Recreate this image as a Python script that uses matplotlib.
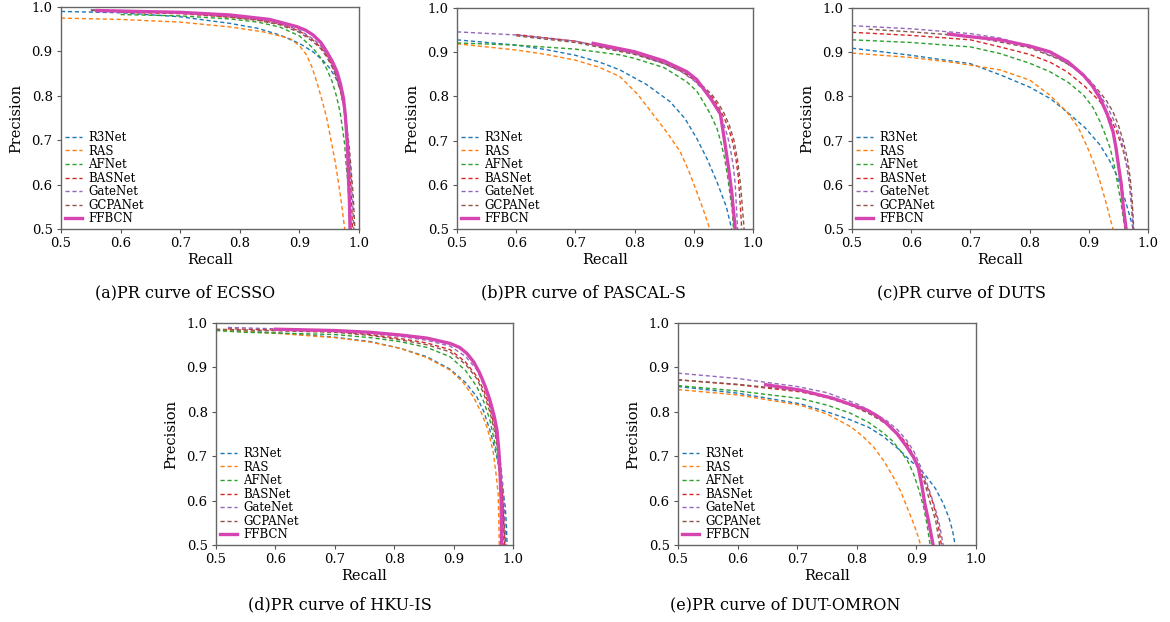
import matplotlib
matplotlib.use('Agg')
import matplotlib.pyplot as plt
from matplotlib.ticker import FormatStrFormatter

models = ['R3Net', 'RAS', 'AFNet', 'BASNet', 'GateNet', 'GCPANet', 'FFBCN']
colors = ['#1f77b4', '#ff7f0e', '#2ca02c', '#d62728', '#9467bd', '#8c564b', '#d544b0']

# (recall, precision)
ecssd = {
    'R3Net':   ([0.5, 0.6, 0.7, 0.784, 0.83, 0.867, 0.9, 0.923, 0.94, 0.951, 0.961, 0.968, 0.974, 0.978, 0.981, 0.983, 0.985, 0.987],
                [0.990, 0.987, 0.978, 0.963, 0.952, 0.937, 0.918, 0.899, 0.879, 0.862, 0.84, 0.817, 0.78, 0.74, 0.68, 0.62, 0.56, 0.5]),
    'RAS':     ([0.5, 0.6, 0.7, 0.784, 0.84, 0.884, 0.9, 0.912, 0.921, 0.929, 0.938, 0.946, 0.953, 0.960, 0.966, 0.971, 0.976],
                [0.975, 0.972, 0.966, 0.955, 0.944, 0.929, 0.913, 0.892, 0.865, 0.832, 0.79, 0.749, 0.70, 0.652, 0.60, 0.554, 0.5]),
    'AFNet':   ([0.6, 0.7, 0.784, 0.83, 0.867, 0.9, 0.923, 0.936, 0.946, 0.955, 0.962, 0.968, 0.972, 0.976, 0.978, 0.981, 0.983, 0.986],
                [0.983, 0.98, 0.973, 0.966, 0.955, 0.935, 0.907, 0.885, 0.86, 0.832, 0.8, 0.765, 0.73, 0.69, 0.65, 0.61, 0.57, 0.5]),
    'BASNet':  ([0.6, 0.7, 0.784, 0.83, 0.867, 0.9, 0.923, 0.936, 0.946, 0.955, 0.963, 0.97, 0.975, 0.979, 0.982, 0.984, 0.986, 0.988, 0.989],
                [0.988, 0.985, 0.977, 0.971, 0.962, 0.946, 0.925, 0.909, 0.89, 0.867, 0.84, 0.805, 0.77, 0.725, 0.68, 0.64, 0.6, 0.55, 0.5]),
    'GateNet': ([0.55, 0.7, 0.784, 0.83, 0.867, 0.9, 0.923, 0.936, 0.946, 0.955, 0.963, 0.97, 0.975, 0.979, 0.983, 0.986, 0.988, 0.99, 0.991],
                [0.994, 0.988, 0.979, 0.973, 0.963, 0.948, 0.928, 0.912, 0.893, 0.871, 0.845, 0.81, 0.775, 0.73, 0.68, 0.635, 0.59, 0.54, 0.5]),
    'GCPANet': ([0.55, 0.7, 0.784, 0.83, 0.867, 0.9, 0.923, 0.936, 0.946, 0.955, 0.963, 0.97, 0.976, 0.98, 0.984, 0.987, 0.99, 0.992, 0.993],
                [0.992, 0.987, 0.977, 0.97, 0.96, 0.943, 0.922, 0.906, 0.887, 0.865, 0.84, 0.807, 0.77, 0.725, 0.68, 0.63, 0.58, 0.53, 0.5]),
    'FFBCN':   ([0.56, 0.7, 0.784, 0.85, 0.895, 0.91, 0.923, 0.936, 0.946, 0.955, 0.963, 0.969, 0.974, 0.977, 0.979, 0.981, 0.982, 0.984, 0.985],
                [0.992, 0.988, 0.982, 0.972, 0.956, 0.948, 0.937, 0.92, 0.899, 0.878, 0.854, 0.826, 0.794, 0.757, 0.719, 0.674, 0.629, 0.56, 0.5]),
}

pascal = {
    'R3Net':   ([0.5, 0.6, 0.65, 0.7, 0.74, 0.775, 0.82, 0.86, 0.885, 0.905, 0.923, 0.939, 0.948, 0.955, 0.964],
                [0.928, 0.916, 0.906, 0.893, 0.878, 0.86, 0.827, 0.788, 0.75, 0.705, 0.657, 0.607, 0.575, 0.55, 0.5]),
    'RAS':     ([0.5, 0.6, 0.65, 0.7, 0.74, 0.775, 0.805, 0.832, 0.856, 0.877, 0.892, 0.905, 0.917, 0.927],
                [0.919, 0.905, 0.895, 0.882, 0.866, 0.845, 0.805, 0.758, 0.716, 0.675, 0.63, 0.584, 0.54, 0.5]),
    'AFNet':   ([0.5, 0.6, 0.7, 0.775, 0.8, 0.85, 0.888, 0.905, 0.916, 0.928, 0.939, 0.946, 0.952, 0.957, 0.961, 0.965, 0.967],
                [0.921, 0.916, 0.907, 0.894, 0.886, 0.865, 0.833, 0.812, 0.788, 0.76, 0.728, 0.695, 0.66, 0.62, 0.58, 0.54, 0.5]),
    'BASNet':  ([0.6, 0.7, 0.8, 0.85, 0.88, 0.9, 0.918, 0.93, 0.94, 0.95, 0.958, 0.965, 0.971, 0.975, 0.978, 0.981],
                [0.94, 0.925, 0.898, 0.876, 0.856, 0.838, 0.816, 0.8, 0.78, 0.755, 0.73, 0.7, 0.66, 0.62, 0.565, 0.5]),
    'GateNet': ([0.5, 0.6, 0.7, 0.8, 0.85, 0.88, 0.9, 0.918, 0.93, 0.941, 0.95, 0.957, 0.962, 0.967, 0.97, 0.972, 0.974],
                [0.946, 0.939, 0.925, 0.897, 0.874, 0.855, 0.836, 0.812, 0.795, 0.77, 0.74, 0.71, 0.68, 0.64, 0.6, 0.55, 0.5]),
    'GCPANet': ([0.6, 0.7, 0.8, 0.85, 0.88, 0.9, 0.918, 0.93, 0.94, 0.95, 0.96, 0.968, 0.974, 0.979, 0.982, 0.985],
                [0.937, 0.922, 0.895, 0.874, 0.857, 0.84, 0.82, 0.805, 0.787, 0.765, 0.735, 0.7, 0.655, 0.6, 0.55, 0.5]),
    'FFBCN':   ([0.73, 0.8, 0.85, 0.888, 0.905, 0.916, 0.93, 0.945, 0.953, 0.959, 0.964, 0.97],
                [0.92, 0.901, 0.88, 0.856, 0.838, 0.818, 0.792, 0.76, 0.69, 0.635, 0.584, 0.5]),
}

duts = {
    'R3Net':   ([0.5, 0.6, 0.7, 0.75, 0.8, 0.835, 0.863, 0.893, 0.919, 0.935, 0.947, 0.957, 0.964, 0.97, 0.975],
                [0.909, 0.893, 0.874, 0.849, 0.821, 0.795, 0.765, 0.73, 0.69, 0.655, 0.622, 0.585, 0.554, 0.525, 0.5]),
    'RAS':     ([0.5, 0.6, 0.67, 0.75, 0.8, 0.834, 0.863, 0.882, 0.896, 0.909, 0.919, 0.928, 0.936, 0.941],
                [0.898, 0.888, 0.877, 0.86, 0.837, 0.803, 0.765, 0.73, 0.69, 0.648, 0.607, 0.565, 0.524, 0.5]),
    'AFNet':   ([0.5, 0.6, 0.7, 0.75, 0.8, 0.834, 0.865, 0.891, 0.907, 0.919, 0.928, 0.936, 0.942, 0.947, 0.951, 0.955, 0.961],
                [0.928, 0.922, 0.912, 0.897, 0.875, 0.856, 0.832, 0.803, 0.775, 0.743, 0.713, 0.683, 0.65, 0.615, 0.585, 0.554, 0.5]),
    'BASNet':  ([0.5, 0.6, 0.7, 0.75, 0.8, 0.835, 0.863, 0.893, 0.919, 0.935, 0.947, 0.957, 0.964, 0.969, 0.972, 0.975],
                [0.945, 0.938, 0.928, 0.912, 0.895, 0.877, 0.856, 0.823, 0.788, 0.755, 0.72, 0.683, 0.645, 0.6, 0.56, 0.5]),
    'GateNet': ([0.5, 0.6, 0.7, 0.75, 0.8, 0.85, 0.875, 0.9, 0.917, 0.93, 0.941, 0.95, 0.957, 0.963, 0.968, 0.971, 0.975],
                [0.96, 0.953, 0.942, 0.932, 0.913, 0.885, 0.864, 0.835, 0.806, 0.78, 0.75, 0.72, 0.69, 0.65, 0.61, 0.57, 0.5]),
    'GCPANet': ([0.528, 0.6, 0.7, 0.8, 0.85, 0.875, 0.9, 0.917, 0.93, 0.941, 0.95, 0.958, 0.965, 0.97, 0.973, 0.976],
                [0.952, 0.946, 0.936, 0.91, 0.884, 0.865, 0.838, 0.812, 0.79, 0.765, 0.735, 0.7, 0.66, 0.615, 0.57, 0.5]),
    'FFBCN':   ([0.663, 0.7, 0.75, 0.8, 0.834, 0.865, 0.891, 0.906, 0.919, 0.931, 0.941, 0.946, 0.95, 0.955, 0.958, 0.963],
                [0.941, 0.935, 0.928, 0.914, 0.901, 0.878, 0.848, 0.824, 0.796, 0.76, 0.72, 0.683, 0.645, 0.6, 0.554, 0.5]),
}

hkuis = {
    'R3Net':   ([0.5, 0.6, 0.7, 0.76, 0.81, 0.855, 0.894, 0.92, 0.939, 0.951, 0.961, 0.969, 0.975, 0.981, 0.987, 0.989, 0.99],
                [0.985, 0.978, 0.968, 0.958, 0.943, 0.924, 0.896, 0.866, 0.834, 0.8, 0.759, 0.72, 0.684, 0.64, 0.586, 0.54, 0.5]),
    'RAS':     ([0.5, 0.6, 0.7, 0.76, 0.81, 0.855, 0.894, 0.915, 0.933, 0.946, 0.956, 0.962, 0.967, 0.971, 0.975, 0.976, 0.977],
                [0.984, 0.977, 0.967, 0.957, 0.943, 0.922, 0.894, 0.868, 0.834, 0.8, 0.766, 0.737, 0.707, 0.665, 0.616, 0.56, 0.5]),
    'AFNet':   ([0.5, 0.55, 0.7, 0.76, 0.81, 0.855, 0.894, 0.92, 0.939, 0.951, 0.961, 0.967, 0.973, 0.977, 0.981, 0.983, 0.984],
                [0.983, 0.979, 0.974, 0.967, 0.958, 0.945, 0.924, 0.893, 0.857, 0.822, 0.782, 0.745, 0.707, 0.66, 0.616, 0.56, 0.5]),
    'BASNet':  ([0.52, 0.7, 0.76, 0.81, 0.855, 0.894, 0.92, 0.939, 0.951, 0.961, 0.969, 0.975, 0.979, 0.982, 0.984, 0.986],
                [0.987, 0.981, 0.974, 0.965, 0.955, 0.94, 0.912, 0.88, 0.848, 0.81, 0.765, 0.72, 0.67, 0.62, 0.56, 0.5]),
    'GateNet': ([0.52, 0.7, 0.76, 0.81, 0.855, 0.894, 0.92, 0.939, 0.951, 0.961, 0.969, 0.975, 0.98, 0.984, 0.986, 0.988],
                [0.99, 0.983, 0.977, 0.97, 0.961, 0.948, 0.925, 0.895, 0.86, 0.82, 0.775, 0.73, 0.675, 0.62, 0.56, 0.5]),
    'GCPANet': ([0.5, 0.7, 0.76, 0.81, 0.855, 0.894, 0.92, 0.939, 0.951, 0.961, 0.969, 0.975, 0.979, 0.983, 0.985, 0.987],
                [0.986, 0.979, 0.972, 0.962, 0.951, 0.935, 0.907, 0.875, 0.84, 0.8, 0.755, 0.71, 0.655, 0.6, 0.55, 0.5]),
    'FFBCN':   ([0.6, 0.7, 0.76, 0.81, 0.855, 0.894, 0.91, 0.922, 0.934, 0.944, 0.953, 0.961, 0.968, 0.973, 0.976, 0.978, 0.98, 0.981],
                [0.986, 0.983, 0.979, 0.973, 0.966, 0.954, 0.945, 0.932, 0.912, 0.887, 0.858, 0.827, 0.792, 0.759, 0.715, 0.669, 0.6, 0.5]),
}

dutomron = {
    'R3Net':   ([0.5, 0.6, 0.705, 0.75, 0.789, 0.82, 0.845, 0.87, 0.889, 0.905, 0.917, 0.932, 0.945, 0.955, 0.961, 0.965],
                [0.857, 0.842, 0.818, 0.8, 0.782, 0.765, 0.744, 0.716, 0.691, 0.672, 0.654, 0.627, 0.594, 0.56, 0.53, 0.5]),
    'RAS':     ([0.5, 0.6, 0.705, 0.75, 0.789, 0.81, 0.828, 0.845, 0.861, 0.874, 0.884, 0.894, 0.903, 0.907],
                [0.85, 0.838, 0.815, 0.795, 0.767, 0.745, 0.721, 0.69, 0.654, 0.62, 0.586, 0.553, 0.519, 0.5]),
    'AFNet':   ([0.5, 0.6, 0.705, 0.75, 0.789, 0.82, 0.845, 0.86, 0.872, 0.885, 0.895, 0.904, 0.912, 0.918, 0.923],
                [0.859, 0.847, 0.83, 0.815, 0.797, 0.776, 0.752, 0.734, 0.714, 0.69, 0.661, 0.625, 0.586, 0.545, 0.5]),
    'BASNet':  ([0.5, 0.6, 0.705, 0.75, 0.789, 0.82, 0.845, 0.866, 0.884, 0.896, 0.906, 0.918, 0.928, 0.936, 0.942],
                [0.872, 0.861, 0.845, 0.832, 0.815, 0.797, 0.778, 0.755, 0.729, 0.7, 0.669, 0.632, 0.594, 0.55, 0.5]),
    'GateNet': ([0.5, 0.6, 0.7, 0.75, 0.8, 0.825, 0.85, 0.868, 0.884, 0.896, 0.906, 0.916, 0.925, 0.932, 0.938, 0.945],
                [0.887, 0.875, 0.857, 0.843, 0.818, 0.8, 0.78, 0.76, 0.735, 0.71, 0.68, 0.645, 0.61, 0.58, 0.55, 0.5]),
    'GCPANet': ([0.5, 0.6, 0.7, 0.75, 0.8, 0.825, 0.85, 0.868, 0.884, 0.896, 0.906, 0.915, 0.922, 0.928, 0.933, 0.939],
                [0.872, 0.862, 0.848, 0.834, 0.81, 0.793, 0.772, 0.75, 0.725, 0.698, 0.67, 0.635, 0.6, 0.575, 0.55, 0.5]),
    'FFBCN':   ([0.647, 0.705, 0.761, 0.817, 0.835, 0.85, 0.868, 0.884, 0.895, 0.903, 0.909, 0.914, 0.921, 0.928],
                [0.861, 0.849, 0.83, 0.804, 0.79, 0.774, 0.75, 0.721, 0.698, 0.676, 0.635, 0.594, 0.55, 0.5]),
}

panels = [
    (ecssd, '(a)PR curve of ECSSO'),
    (pascal, '(b)PR curve of PASCAL-S'),
    (duts, '(c)PR curve of DUTS'),
    (hkuis, '(d)PR curve of HKU-IS'),
    (dutomron, '(e)PR curve of DUT-OMRON'),
]

# axes boxes in pixels: left, top, right, bottom ; caption centre x, y
W, H = 1170, 622
boxes = [
    (61, 7, 359, 229, 185, 293),
    (457, 8, 753, 229, 583, 293),
    (852, 8, 1148, 229, 961, 293),
    (216, 323, 513, 545, 340, 605),
    (678, 323, 976, 545, 785, 605),
]

plt.rcParams['font.family'] = 'DejaVu Serif'

fig = plt.figure(figsize=(W / 100, H / 100), dpi=100)

for (data, caption), (l, t, r, b, cx, cy) in zip(panels, boxes):
    ax = fig.add_axes([l / W, 1 - b / H, (r - l) / W, (b - t) / H])
    for name, col in zip(models, colors):
        rec, prec = data[name]
        if name == 'FFBCN':
            ax.plot(rec, prec, color=col, lw=2.4, label=name, solid_joinstyle='round')
        else:
            ax.plot(rec, prec, color=col, lw=1.0, ls=(0, (3, 2)), label=name)
    ax.set_xlim(0.5, 1.0)
    ax.set_ylim(0.5, 1.0)
    ax.set_xticks([0.5, 0.6, 0.7, 0.8, 0.9, 1.0])
    ax.set_yticks([0.5, 0.6, 0.7, 0.8, 0.9, 1.0])
    ax.xaxis.set_major_formatter(FormatStrFormatter('%.1f'))
    ax.yaxis.set_major_formatter(FormatStrFormatter('%.1f'))
    ax.tick_params(labelsize=9.5, length=3, width=0.8, pad=3, color='#555555')
    for sp in ax.spines.values():
        sp.set_color('#666666')
        sp.set_linewidth(1.0)
    ax.set_xlabel('Recall', fontsize=10.5, labelpad=2)
    ax.set_ylabel('Precision', fontsize=10.5, labelpad=6)
    ax.legend(loc='lower left', frameon=False, fontsize=8.5, labelspacing=0.05,
              handlelength=1.5, handletextpad=0.5, borderaxespad=0.2, borderpad=0.1)
    fig.text(cx / W, 1 - cy / H, caption, fontsize=11.5, ha='center', va='center')

fig.savefig('out.png', dpi=100)
